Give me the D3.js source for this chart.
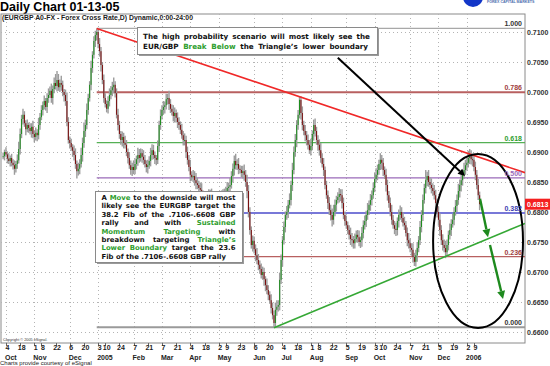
<!DOCTYPE html>
<html>
<head>
<meta charset="utf-8">
<script src="https://cdn.jsdelivr.net/npm/d3@7"></script>
<style>
  body { margin: 0; background: #fff; }
  svg { display: block; font-family: "Liberation Sans", Arial, sans-serif; }
</style>
</head>
<body>
<div id="chart"></div>
<script>
// EUR/GBP daily closes in pips (6893 = 0.6893), first bar is 30 Sep 2004, last 13 Jan 2006
var firstDay = "2004-09-30";
var closes = [
  6893,6900,6896,
  6889,6885,6890,6882,6878, 6872,6880,6886,6905,6930, 6955,6962,6948,6938,6945,
  6940,6935,6942,6930,6925, 6932,6928,6945,6958,6970, 6978,6985,6975,6990,6995,
  7002,6990,7005,7015,7010, 7020,7008,7015,7012,7000, 6995,6985,6950,6920,6915,
  6908,6902,6895,6880,6868, 6872,6880,6895,6915,6935, 6945,6970,6990,7012,7040,
  7062,7085,7095,7100,7080, 7068,7045,7020,6990,6980, 6972,6985,6995,7003,7008,
  7012,6998,6962,6945,6930, 6920,6925,6915,6912,6900, 6890,6878,6870,6875,6870,
  6880,6888,6895,6890,6898, 6892,6887,6880,6875,6878, 6885,6895,6903,6895,6890,
  6887,6910,6945,6960,6970, 6975,6978,6988,6990,6980, 6972,6967,6960,6965,6957,
  6950,6945,6937,6928,6920, 6920,6900,6887,6875,6862, 6858,6860,6853,6848,6845,
  6840,6837,6830,6825,6820, 6815,6822,6828,6825,6818, 6812,6808,6815,6818,6822,
  6820,6825,6830,6828,6835, 6840,6842,6845,6860,6872, 6885,6878,6880,6872,6870,
  6865,6868,6862,6850,6835, 6800,6770,6745,6752,6738, 6728,6720,6712,6705,6695,
  6700,6688,6678,6670,6662, 6653,6640,6628,6615,6637, 6642,6645,6687,6720,6753,
  6775,6795,6800,6812,6820, 6845,6870,6900,6920,6945, 6962,6987,6965,6945,6935,
  6928,6920,6912,6903,6910, 6930,6945,6935,6920,6912, 6903,6890,6880,6870,6845,
  6828,6815,6803,6795,6787, 6800,6812,6820,6825,6830, 6828,6815,6795,6785,6778,
  6770,6762,6755,6753,6748, 6755,6762,6758,6750,6753, 6765,6778,6785,6795,6803,
  6812,6820,6828,6840,6855, 6862,6870,6880,6887,6882, 6870,6862,6845,6828,6815,
  6800,6787,6778,6772,6770, 6785,6795,6800,6790,6782, 6778,6765,6753,6748,6740,
  6737,6725,6717,6728,6740, 6753,6775,6795,6820,6840, 6853,6860,6850,6845,6840,
  6835,6828,6815,6800,6787, 6770,6753,6745,6740,6733, 6745,6762,6770,6780,6787,
  6800,6810,6820,6835,6845, 6853,6862,6870,6878,6882, 6890,6895,6888,6887,6875,
  6862,6845,6828,6813
];
// pips of wick above / below each candle body
var wickUp = [
  6,4,8,
  5,9,4,7,6, 8,5,10,12,9, 7,10,6,5,9, 4,8,6,10,5, 9,6,12,7,8, 6,9,5,8,11,
  7,12,6,9,15, 15,10,6,12,7, 5,9,14,8,6, 7,5,9,11,6, 10,8,12,9,14, 9,11,7,6,12,
  6,8,7,6,5, 10,7,5,9,8, 6,8,11,7,9, 12,6,8,10,7, 5,9,7,12,8, 6,10,8,7,11,
  9,6,12,10,8, 7,11,8,6,9, 8,12,10,9,6, 5,9,7,11,8, 10,6,9,7,12, 8,7,11,9,6,
  9,8,6,10,7, 11,7,9,8,12, 6,10,8,12,9, 7,9,11,6,10, 8,6,10,9,14, 12,9,7,10,8,
  6,11,8,9,7, 10,7,12,8,9, 9,12,8,10,6, 7,9,11,8,12, 10,8,6,9,7, 8,12,10,7,9,
  9,7,5,11,8, 6,10,9,8,12, 11,8,12,9,7, 9,6,10,8,11, 7,12,9,10,8, 8,5,6,11,7,
  10,7,9,8,12, 6,9,11,7,8, 9,12,8,10,6, 7,8,10,9,11, 12,9,7,8,10, 8,10,9,6,9,
  6,8,12,10,7, 9,7,8,11,6, 10,8,9,7,12, 7,10,8,9,11, 11,9,7,11,8, 8,6,10,9,7,
  9,12,8,7,10, 6,9,11,8,9, 10,7,9,12,8, 8,11,7,9,10, 7,10,8,9,7, 17,7,10,8,11,
  8,10,9,7,9, 11,8,10,9,12, 9,7,11,8,10, 8,10,9,12,9, 10,8,12,9,11, 12,10,8,9,7,
  9,8,10,6
];
var wickDn = [
  5,7,4,
  8,5,9,6,7, 10,6,8,5,9, 7,9,6,10,5, 8,6,11,7,9, 6,10,7,8,5, 9,7,6,10,8,
  5,8,11,7,6, 9,6,8,10,7, 11,8,7,6,9, 6,10,9,8,12, 7,9,6,11,8, 10,7,8,6,9,
  8,6,10,9,7, 9,11,7,8,6, 6,8,9,7,10, 10,7,6,9,8, 8,11,9,6,7, 9,6,8,10,7,
  7,9,11,8,6, 10,8,6,9,11, 6,9,8,7,10, 9,7,10,8,6, 8,11,7,9,10, 7,6,9,11,8,
  10,8,7,6,9, 9,10,8,7,11, 6,8,9,10,7, 8,7,11,9,6, 10,9,6,8,7, 7,11,8,10,9,
  9,6,7,8,10, 8,10,9,6,11, 11,7,8,9,6, 7,9,10,8,12, 9,8,6,11,7, 10,7,9,8,6,
  8,11,10,7,9, 6,9,7,8,7, 10,8,9,7,11, 7,9,8,10,6, 9,10,7,8,12, 8,6,11,9,7,
  10,9,8,6,9, 7,11,9,8,10, 9,8,6,10,7, 6,10,8,9,11, 8,7,11,6,9, 10,9,7,8,6,
  7,8,10,11,9, 9,6,8,7,10, 11,9,7,10,8, 8,10,9,6,7, 6,9,8,10,11, 10,7,11,9,8,
  7,8,6,9,10, 9,11,8,7,6, 8,6,10,9,7, 10,9,7,8,11, 7,8,9,10,6, 9,10,8,7,9,
  8,7,11,9,10, 10,8,9,7,10, 7,9,8,10,6, 9,6,10,8,11, 11,9,7,8,9, 8,10,9,11,7,
  9,7,8,10
];

var yTicks = [0.6600, 0.6650, 0.6700, 0.6750, 0.6800, 0.6850, 0.6900, 0.6950, 0.7000, 0.7050, 0.7100];
var dayTicks = ["2004-10-04","2004-10-18","2004-11-01","2004-11-08","2004-11-22","2004-12-06","2004-12-20",
  "2005-01-03","2005-01-10","2005-01-24","2005-02-07","2005-02-21","2005-03-07","2005-03-21",
  "2005-04-04","2005-04-18","2005-05-02","2005-05-09","2005-05-23","2005-06-06","2005-06-20",
  "2005-07-04","2005-07-18","2005-08-01","2005-08-08","2005-08-22","2005-09-05","2005-09-19",
  "2005-10-03","2005-10-10","2005-10-24","2005-11-07","2005-11-21","2005-12-05","2005-12-19",
  "2006-01-02","2006-01-09"];
var monthNames = ["Jan","Feb","Mar","Apr","May","Jun","Jul","Aug","Sep","Oct","Nov","Dec"];

// fibonacci retracement of the .7106-.6608 rally, drawn from the 3 Jan 2005 high
var fibHigh = 0.7106, fibLow = 0.6608, fibFromBar = 66;
var fibLevels = [1.000, 0.786, 0.618, 0.500, 0.382, 0.236, 0.000];
var fibColors = ["#a8a8a8", "#b86060", "#55b055", "#9a6ab8", "#7878d8", "#b86060", "#9a9a9a"];
var fibText = ["#333", "#a04040", "#2e9e2e", "#9a6ab8", "#4040b0", "#a04040", "#333"];
var lastPrice = 0.6813;

// annotations, as [bar, price]
var upperTrend = [[66, 0.7106], [368, 0.68655]];
var lowerTrend = [[191, 0.6607], [368, 0.6781]];
var blackArrow = [[236, 0.7057], [325.7, 0.6860]];
var greenArrows = [[[336.3, 0.6822], [341.9, 0.6758]], [[343.3, 0.6745], [352.5, 0.6655]]];
var ring = { bar: 334.9, price: 0.67517, halfBars: 31.7, halfPrice: 0.0145 };

var noteTop = [
  "The high probability scenario will most likely see the",
  "EUR/GBP {Break} {Below} the Triangle\u2019s lower boundary"
];
var noteLeft = [
  "A {Move} to the downside will most",
  "likely see the EURGBP target the",
  "38.2 Fib of the .7106-.6608 GBP",
  "rally and with {Sustained}",
  "{Momentum} {Targeting} with",
  "breakdown targeting {Triangle\u2019s}",
  "{Lower} {Boundary} target the 23.6",
  "Fib of the .7106-.6608 GBP rally"
];

var W = 550, H = 366;
var plot = { left: 1, top: 14, right: 525, bottom: 343 };
var GREEN = "#2e9e2e", INK = "#111";

var svg = d3.select("#chart").append("svg").attr("width", W).attr("height", H);

var parse = d3.timeParse("%Y-%m-%d");
var dates = [];
var d = parse(firstDay);
while (dates.length < closes.length) {
  if (d.getDay() !== 0 && d.getDay() !== 6) dates.push(d);
  d = d3.timeDay.offset(d, 1);
}
function barOf(s) {
  var t = parse(s).getTime();
  return dates.findIndex(function(v) { return v.getTime() === t; });
}

var x = d3.scaleLinear().domain([-1.5, 368]).range([plot.left, plot.right]);
var y = d3.scaleLinear().domain([0.66, 0.71]).range([332, 32]);

svg.append("defs").append("clipPath").attr("id", "clip")
  .append("rect").attr("x", plot.left).attr("y", plot.top)
  .attr("width", plot.right - plot.left).attr("height", plot.bottom - plot.top);

// header
svg.append("text").attr("x", 0).attr("y", 11).attr("font-size", 12.5).attr("font-weight", "bold")
  .text("Daily Chart 01-13-05");
svg.append("circle").attr("cx", 473).attr("cy", -3).attr("r", 10).attr("fill", "#1236c8");
svg.append("text").attr("x", 487).attr("y", 3).attr("font-size", 3.6).attr("fill", "#5070b0")
  .attr("font-weight", "bold").text("FOREX CAPITAL MARKETS");

// frame
svg.append("rect").attr("x", plot.left).attr("y", plot.top)
  .attr("width", plot.right - plot.left).attr("height", plot.bottom - plot.top)
  .attr("fill", "#fff").attr("stroke", "#8a8a8a");

svg.append("text").attr("x", 2).attr("y", 20).attr("font-size", 6.5).attr("font-weight", "bold")
  .attr("fill", "#222").attr("textLength", 191).attr("lengthAdjust", "spacingAndGlyphs")
  .text("(EURGBP A0-FX - Forex Cross Rate,D) Dynamic,0:00-24:00");

var body = svg.append("g").attr("clip-path", "url(#clip)");

// grid
body.selectAll("line.hg").data(yTicks).enter().append("line")
  .attr("x1", plot.left).attr("x2", plot.right)
  .attr("y1", function(v) { return y(v) + 0.5; }).attr("y2", function(v) { return y(v) + 0.5; })
  .attr("stroke", "#b4b4b4").attr("stroke-dasharray", "1,3");

var ticks = dayTicks.map(function(s) { return { bar: barOf(s), date: parse(s) }; });
var monthTicks = ticks.filter(function(t, k) {
  return k === 0 || t.date.getMonth() !== ticks[k - 1].date.getMonth();
});
body.selectAll("line.vg").data(monthTicks).enter().append("line")
  .attr("x1", function(t) { return Math.round(x(t.bar)) + 0.5; })
  .attr("x2", function(t) { return Math.round(x(t.bar)) + 0.5; })
  .attr("y1", plot.top).attr("y2", plot.bottom)
  .attr("stroke", "#b4b4b4").attr("stroke-dasharray", "1,3");

// fib lines
fibLevels.forEach(function(f, k) {
  var py = y(fibLow + f * (fibHigh - fibLow));
  body.append("line").attr("x1", x(fibFromBar)).attr("x2", plot.right)
    .attr("y1", py).attr("y2", py).attr("stroke", fibColors[k])
    .attr("stroke-width", (f === 0.382 || f === 0 || f === 0.786) ? 2 : 1.3);
});

// candles
var bars = closes.map(function(c, k) {
  var o = k > 0 ? closes[k - 1] : c;
  return { k: k, o: o / 1e4, c: c / 1e4,
           h: (Math.max(o, c) + wickUp[k]) / 1e4, l: (Math.min(o, c) - wickDn[k]) / 1e4 };
});
body.selectAll("line.wick").data(bars).enter().append("line")
  .attr("x1", function(b) { return x(b.k); }).attr("x2", function(b) { return x(b.k); })
  .attr("y1", function(b) { return y(b.h); }).attr("y2", function(b) { return y(b.l); })
  .attr("stroke", "#9c9c9c").attr("stroke-width", 1.4);
body.selectAll("rect.candle").data(bars).enter().append("rect")
  .attr("x", function(b) { return x(b.k) - 0.5; }).attr("width", 1)
  .attr("y", function(b) { return y(Math.max(b.o, b.c)); })
  .attr("height", function(b) { return Math.max(1, Math.abs(y(b.o) - y(b.c))); })
  .attr("fill", function(b) { return b.c >= b.o ? "#1c8c1c" : "#7a0c0c"; });

// trend lines
var line = d3.line().x(function(p) { return x(p[0]); }).y(function(p) { return y(p[1]); });
body.append("path").attr("d", line(upperTrend)).attr("stroke", "#f02828").attr("stroke-width", 1.6).attr("fill", "none");
body.append("path").attr("d", line(lowerTrend)).attr("stroke", "#35a835").attr("stroke-width", 1.6).attr("fill", "none");

// fib labels
fibLevels.forEach(function(f, k) {
  var py = y(fibLow + f * (fibHigh - fibLow));
  svg.append("text").attr("x", 522).attr("y", py - 2).attr("text-anchor", "end")
    .attr("font-size", 7).attr("font-weight", "bold").attr("fill", fibText[k]).text(f.toFixed(3));
});

// ellipse around the last swing
body.append("ellipse").attr("cx", x(ring.bar)).attr("cy", y(ring.price))
  .attr("rx", x(ring.bar + ring.halfBars) - x(ring.bar))
  .attr("ry", y(ring.price - ring.halfPrice) - y(ring.price))
  .attr("fill", "none").attr("stroke", "#000").attr("stroke-width", 2);

// arrows
function arrow(pts, color, w, head) {
  var p0 = [x(pts[0][0]), y(pts[0][1])], p1 = [x(pts[1][0]), y(pts[1][1])];
  var a = Math.atan2(p1[1] - p0[1], p1[0] - p0[0]);
  var back = [p1[0] - head * Math.cos(a), p1[1] - head * Math.sin(a)];
  svg.append("line").attr("x1", p0[0]).attr("y1", p0[1]).attr("x2", back[0]).attr("y2", back[1])
    .attr("stroke", color).attr("stroke-width", w);
  var s = head * 0.5;
  svg.append("polygon").attr("fill", color).attr("points", [
    p1,
    [back[0] + s * Math.sin(a), back[1] - s * Math.cos(a)],
    [back[0] - s * Math.sin(a), back[1] + s * Math.cos(a)]
  ].map(function(p) { return p.join(","); }).join(" "));
}
arrow(blackArrow, "#000", 2, 7);
greenArrows.forEach(function(a) { arrow(a, "#1e8a1e", 2.4, 8); });

// right axis
svg.selectAll("text.ya").data(yTicks).enter().append("text")
  .attr("x", 527).attr("y", function(v) { return y(v) + 2.5; })
  .attr("font-size", 7).attr("font-weight", "bold").attr("fill", "#333")
  .text(function(v) { return v.toFixed(4); });
svg.append("rect").attr("x", 525).attr("y", y(lastPrice) - 5.5).attr("width", 25).attr("height", 11)
  .attr("fill", "#f42020");
svg.append("text").attr("x", 527).attr("y", y(lastPrice) + 2.5).attr("font-size", 7)
  .attr("font-weight", "bold").attr("fill", "#fff").text(lastPrice.toFixed(4));

// bottom axis
svg.selectAll("line.xt").data(ticks).enter().append("line")
  .attr("x1", function(t) { return Math.round(x(t.bar)) + 0.5; })
  .attr("x2", function(t) { return Math.round(x(t.bar)) + 0.5; })
  .attr("y1", plot.bottom).attr("y2", plot.bottom + 3).attr("stroke", "#666");
svg.selectAll("text.xd").data(ticks).enter().append("text")
  .attr("x", function(t) { return x(t.bar) + 1.5; }).attr("y", 350)
  .attr("text-anchor", "middle").attr("font-size", 7).attr("font-weight", "bold").attr("fill", "#222")
  .text(function(t) { return t.date.getDate(); });
svg.selectAll("text.xm").data(monthTicks).enter().append("text")
  .attr("x", function(t) { return x(t.bar) - 1; }).attr("y", 360)
  .attr("font-size", 7).attr("font-weight", "bold").attr("fill", "#222")
  .text(function(t) { return t.date.getMonth() === 0 ? t.date.getFullYear() : monthNames[t.date.getMonth()]; });

svg.append("text").attr("x", 3).attr("y", 341).attr("font-size", 3.8).attr("fill", "#333")
  .text("Copyright \u00a9 2005 eSignal.");
svg.append("text").attr("x", 0).attr("y", 365).attr("font-size", 6).attr("fill", "#222")
  .text("Charts provide courtesy of eSignal");

// note boxes
function noteBox(x0, y0, w, h) {
  svg.append("rect").attr("x", x0 + 2).attr("y", y0 + 2).attr("width", w).attr("height", h).attr("fill", "#9a9a9a");
  svg.append("rect").attr("x", x0 + 0.5).attr("y", y0 + 0.5).attr("width", w).attr("height", h)
    .attr("fill", "#fff").attr("stroke", "#8a8a8a");
}
function writeLines(lines, x0, y0, lh, widths, size) {
  lines.forEach(function(ln, k) {
    var nodes = ln.split(" ").map(function(wd) {
      var green = wd.charAt(0) === "{";
      return svg.append("text").attr("y", y0 + k * lh).attr("font-size", size).attr("font-weight", "bold")
        .attr("font-family", "'DejaVu Sans', Verdana, sans-serif")
        .attr("fill", green ? GREEN : INK).text(wd.replace(/[{}]/g, ""));
    });
    var total = d3.sum(nodes, function(n) { return n.node().getComputedTextLength(); });
    var space = size * 0.35;
    var gap = widths[k] ? Math.max(1, (widths[k] - total) / (nodes.length - 1)) : space;
    var cx = x0;
    nodes.forEach(function(n) { n.attr("x", cx); cx += n.node().getComputedTextLength() + gap; });
  });
}
noteBox(137, 27, 240, 27);
writeLines(noteTop, 143, 39, 9.5, [227, 225], 7.2);
noteBox(95, 191, 147, 71);
writeLines(noteLeft, 101.5, 200, 8.4, [134, 134, 134, 134, 134, 134, 134, null], 6.9);
</script>
</body>
</html>
